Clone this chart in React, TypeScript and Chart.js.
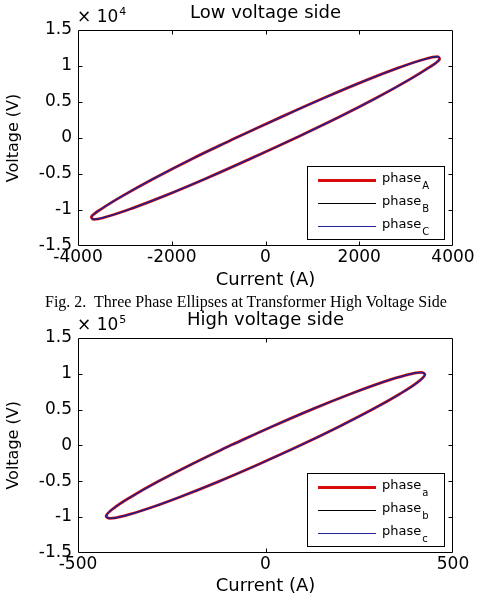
import { useEffect, useRef } from 'react';
import { Chart, registerables } from 'chart.js';

Chart.register(...registerables);

const FONT = '"DejaVu Sans", sans-serif';

// Low voltage side: one cycle of current (A) against voltage (V)
const lowCurrent = [-640, 330, 1280, 2140, 2860, 3370, 3670, 3710, 3490, 3040, 2390, 1570, 640, -330, -1280, -2140, -2860, -3370, -3670, -3710, -3490, -3040, -2390, -1570, -640];
const lowVoltage = [0, 2900, 5650, 8000, 9800, 10900, 11300, 10900, 9800, 8000, 5650, 2900, 0, -2900, -5650, -8000, -9800, -10900, -11300, -10900, -9800, -8000, -5650, -2900, 0];
const lowPhases = ['A', 'B', 'C'];
const lowXTicks = [-4000, -2000, 0, 2000, 4000];
const lowXTickLabels = ['-4000', '-2000', '0', '2000', '4000'];
const lowYTicks = [-15000, -10000, -5000, 0, 5000, 10000, 15000];
const lowYTickLabels = ['-1.5', '-1', '-0.5', '0', '0.5', '1', '1.5'];
const lowExponent = '4';

// High voltage side
const highCurrent = [-93, 18, 127, 228, 313, 377, 415, 425, 406, 359, 288, 197, 93, -18, -127, -228, -313, -377, -415, -425, -406, -359, -288, -197, -93];
const highVoltage = [0, 26400, 51000, 72100, 88300, 98500, 102000, 98500, 88300, 72100, 51000, 26400, 0, -26400, -51000, -72100, -88300, -98500, -102000, -98500, -88300, -72100, -51000, -26400, 0];
const highPhases = ['a', 'b', 'c'];
const highXTicks = [-500, 0, 500];
const highXTickLabels = ['-500', '0', '500'];
const highYTicks = [-150000, -100000, -50000, 0, 50000, 100000, 150000];
const highYTickLabels = ['-1.5', '-1', '-0.5', '0', '0.5', '1', '1.5'];
const highExponent = '5';

const phaseColors = ['#d80c0c', '#000000', '#22229c'];
const phaseWidths = [2.8, 1, 1.3];
const legendWidths = [3, 1, 1];

// Boxed axes with inward ticks, the ×10^n multiplier and the legend box
const framePlugin = {
  id: 'frame',
  afterDraw(chart: any, _args: any, opts: any) {
    const { ctx, chartArea: a } = chart;
    const xs = chart.scales.x;
    const ys = chart.scales.y;
    const L = Math.round(a.left) + 0.5;
    const R = Math.round(a.right) - 0.5;
    const T = Math.round(a.top) + 0.5;
    const B = Math.round(a.bottom) - 0.5;
    const tl = 4;
    ctx.save();
    ctx.strokeStyle = '#000';
    ctx.lineWidth = 1;
    ctx.beginPath();
    ctx.rect(L, T, R - L, B - T);
    xs.ticks.forEach((t: any) => {
      if (t.value <= xs.min || t.value >= xs.max) return;
      const px = Math.round(xs.getPixelForValue(t.value)) + 0.5;
      ctx.moveTo(px, T);
      ctx.lineTo(px, T + tl);
      ctx.moveTo(px, B);
      ctx.lineTo(px, B - tl);
    });
    ys.ticks.forEach((t: any) => {
      if (t.value <= ys.min || t.value >= ys.max) return;
      const py = Math.round(ys.getPixelForValue(t.value)) + 0.5;
      ctx.moveTo(L, py);
      ctx.lineTo(L + tl, py);
      ctx.moveTo(R, py);
      ctx.lineTo(R - tl, py);
    });
    ctx.stroke();

    // multiplier above the y axis
    ctx.fillStyle = '#000';
    ctx.textAlign = 'left';
    ctx.textBaseline = 'alphabetic';
    ctx.font = `17px ${FONT}`;
    const base = a.top - 8;
    const x0 = a.left - 1;
    ctx.fillText('×', x0, base);
    const xw = ctx.measureText('× ').width;
    ctx.fillText('10', x0 + xw, base);
    const tw = ctx.measureText('10').width;
    ctx.font = `11px ${FONT}`;
    ctx.fillText(opts.exponent, x0 + xw + tw + 1, base - 7);

    // legend
    const bw = 137;
    const bh = 73;
    const bx = Math.round(a.right - 9 - bw);
    const by = Math.round(a.bottom - 7 - bh);
    ctx.fillStyle = '#fff';
    ctx.fillRect(bx, by, bw, bh);
    ctx.strokeStyle = '#000';
    ctx.lineWidth = 1;
    ctx.strokeRect(bx + 0.5, by + 0.5, bw, bh);
    chart.data.datasets.forEach((ds: any, i: number) => {
      const y = by + 14 + i * 23;
      ctx.strokeStyle = ds.borderColor;
      ctx.lineWidth = legendWidths[i];
      ctx.beginPath();
      ctx.moveTo(bx + 11, y + 0.5);
      ctx.lineTo(bx + 69, y + 0.5);
      ctx.stroke();
      const [main, sub] = String(ds.label).split('_');
      ctx.fillStyle = '#000';
      ctx.textBaseline = 'middle';
      ctx.font = `13px ${FONT}`;
      ctx.fillText(main, bx + 75, y - 1);
      const mw = ctx.measureText(main).width;
      ctx.font = `10px ${FONT}`;
      ctx.fillText(sub, bx + 76 + mw, y + 6);
    });
    ctx.restore();
  },
};

type Side = {
  title: string;
  current: number[];
  voltage: number[];
  phases: string[];
  xTicks: number[];
  xLabels: string[];
  yTicks: number[];
  yLabels: string[];
  exponent: string;
};

type Layout = {
  titleTop: number;
  titleBottom: number;
  xAxisHeight: number;
  tickPad: number;
  xTitlePad: number;
};

function buildConfig(s: Side, lay: Layout): any {
  return {
    type: 'scatter',
    data: {
      datasets: s.phases.map((p, i) => ({
        label: `phase_${p}`,
        data: s.current.map((x, k) => ({ x, y: s.voltage[k] })),
        showLine: true,
        borderColor: phaseColors[i],
        backgroundColor: phaseColors[i],
        borderWidth: phaseWidths[i],
        pointRadius: 0,
        tension: 0.4,
        // later phases are painted over earlier ones
        order: s.phases.length - i,
      })),
    },
    options: {
      animation: false,
      responsive: true,
      maintainAspectRatio: false,
      events: [],
      layout: { padding: { left: 0, right: 25, top: 0, bottom: 0 } },
      plugins: {
        legend: { display: false },
        tooltip: { enabled: false },
        title: {
          display: true,
          text: s.title,
          fullSize: false,
          color: '#000',
          font: { family: FONT, size: 18, weight: 'normal' },
          padding: { top: lay.titleTop, bottom: lay.titleBottom },
        },
        frame: { exponent: s.exponent },
      },
      scales: {
        x: {
          type: 'linear',
          min: s.xTicks[0],
          max: s.xTicks[s.xTicks.length - 1],
          afterBuildTicks: (sc: any) => {
            sc.ticks = s.xTicks.map((v) => ({ value: v }));
          },
          afterFit: (sc: any) => {
            sc.height = lay.xAxisHeight;
          },
          grid: { display: false, drawTicks: false },
          border: { display: false },
          ticks: {
            padding: lay.tickPad,
            color: '#000',
            autoSkip: false,
            maxRotation: 0,
            font: { family: FONT, size: 17 },
            callback: (_v: any, i: number) => s.xLabels[i],
          },
          title: {
            display: true,
            text: 'Current (A)',
            color: '#000',
            font: { family: FONT, size: 18 },
            padding: { top: 0, bottom: lay.xTitlePad },
          },
        },
        y: {
          type: 'linear',
          min: s.yTicks[0],
          max: s.yTicks[s.yTicks.length - 1],
          afterBuildTicks: (sc: any) => {
            sc.ticks = s.yTicks.map((v) => ({ value: v }));
          },
          afterFit: (sc: any) => {
            sc.width = 78;
          },
          grid: { display: false, drawTicks: false },
          border: { display: false },
          ticks: {
            padding: 6,
            color: '#000',
            autoSkip: false,
            font: { family: FONT, size: 17 },
            callback: (_v: any, i: number) => s.yLabels[i],
          },
          title: {
            display: true,
            text: 'Voltage (V)',
            color: '#000',
            font: { family: FONT, size: 16 },
            padding: { top: 4.4, bottom: 0 },
          },
        },
      },
    },
    plugins: [framePlugin],
  };
}

function LoopChart({ top, height, side, layout }: { top: number; height: number; side: Side; layout: Layout }) {
  const ref = useRef<HTMLCanvasElement>(null);
  useEffect(() => {
    const chart = new Chart(ref.current as HTMLCanvasElement, buildConfig(side, layout));
    return () => chart.destroy();
  }, []);
  return (
    <div style={{ position: 'absolute', left: 0, top, width: 478, height }}>
      <canvas ref={ref} />
    </div>
  );
}

const lowSide: Side = {
  title: 'Low voltage side',
  current: lowCurrent,
  voltage: lowVoltage,
  phases: lowPhases,
  xTicks: lowXTicks,
  xLabels: lowXTickLabels,
  yTicks: lowYTicks,
  yLabels: lowYTickLabels,
  exponent: lowExponent,
};

const highSide: Side = {
  title: 'High voltage side',
  current: highCurrent,
  voltage: highVoltage,
  phases: highPhases,
  xTicks: highXTicks,
  xLabels: highXTickLabels,
  yTicks: highYTicks,
  yLabels: highYTickLabels,
  exponent: highExponent,
};

export default function App() {
  return (
    <div style={{ position: 'absolute', left: 0, top: 0, width: 478, height: 598, background: '#fff', overflow: 'hidden' }}>
      <LoopChart
        top={0}
        height={296}
        side={lowSide}
        layout={{ titleTop: 2.2, titleBottom: 6.2, xAxisHeight: 50, tickPad: 1, xTitlePad: 5.2 }}
      />
      <div
        style={{
          position: 'absolute',
          left: 45,
          top: 293,
          font: '16px "Liberation Serif", "Times New Roman", serif',
          lineHeight: '18px',
          whiteSpace: 'pre',
          color: '#000',
        }}
      >
        {'Fig. 2.  Three Phase Ellipses at Transformer High Voltage Side'}
      </div>
      <LoopChart
        top={306}
        height={292}
        side={highSide}
        layout={{ titleTop: 3.2, titleBottom: 7.2, xAxisHeight: 45.3, tickPad: 2, xTitlePad: 1.2 }}
      />
    </div>
  );
}
